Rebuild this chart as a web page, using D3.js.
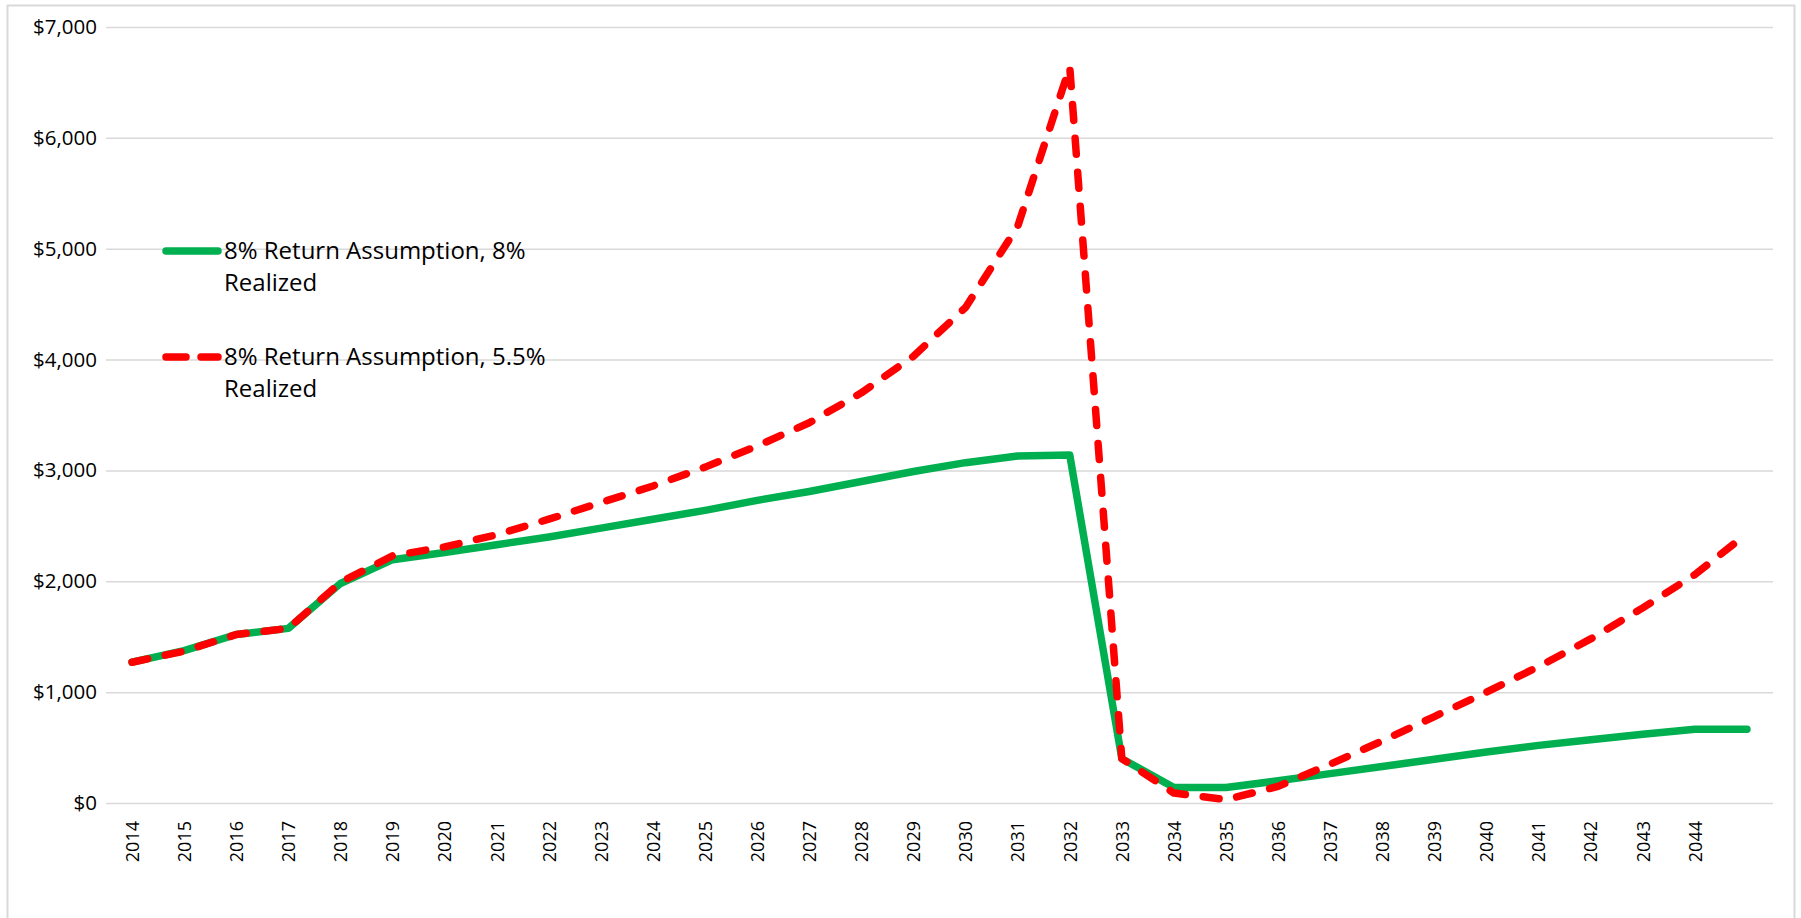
<!DOCTYPE html>
<html>
<head>
<meta charset="utf-8">
<script src="https://cdn.jsdelivr.net/npm/d3@7"></script>
<style>
  body { margin: 0; background: #fff; }
  svg { display: block; font-family: "Open Sans", sans-serif; }
</style>
</head>
<body>
<svg class="container" width="1801" height="918"></svg>
<script>
// DATA
// categories (one point per year, the last year has no label on the axis)
var years = [2014, 2015, 2016, 2017, 2018, 2019, 2020, 2021, 2022, 2023, 2024,
             2025, 2026, 2027, 2028, 2029, 2030, 2031, 2032, 2033, 2034, 2035,
             2036, 2037, 2038, 2039, 2040, 2041, 2042, 2043, 2044, 2045];
var yearLabels = ["2014", "2015", "2016", "2017", "2018", "2019", "2020", "2021",
                  "2022", "2023", "2024", "2025", "2026", "2027", "2028", "2029",
                  "2030", "2031", "2032", "2033", "2034", "2035", "2036", "2037",
                  "2038", "2039", "2040", "2041", "2042", "2043", "2044", ""];
// 8% return assumption, 8% realized
var realized8 = [1270, 1375, 1520, 1575, 1980, 2195, 2260, 2330, 2400, 2480, 2560,
                 2640, 2730, 2810, 2900, 2990, 3070, 3130, 3140, 400, 140, 140,
                 200, 265, 330, 395, 460, 520, 570, 620, 665, 665];
// 8% return assumption, 5.5% realized
var realized55 = [1270, 1370, 1520, 1575, 1990, 2230, 2310, 2420, 2560, 2710, 2860,
                  3030, 3220, 3430, 3700, 4030, 4470, 5200, 6640, 400, 90, 30,
                  150, 350, 560, 780, 1000, 1230, 1480, 1760, 2060, 2430];
var seriesNames = ["8% Return Assumption, 8% Realized", "8% Return Assumption, 5.5% Realized"];
var yTicks = [0, 1000, 2000, 3000, 4000, 5000, 6000, 7000];

// LAYOUT
var plotLeft = 106, plotRight = 1773, plotTop = 27, plotBottom = 803;
var green = "#00b050", red = "#ff0000", grid = "#d9d9d9";

var svg = d3.select(".container");

// chart border
svg.append("rect")
  .attr("x", 7.5).attr("y", 5.5)
  .attr("width", 1787).attr("height", 930)
  .attr("fill", "#fff")
  .attr("stroke", grid)
  .attr("stroke-width", 2);

var x = d3.scalePoint()
  .domain(years)
  .range([plotLeft, plotRight])
  .padding(0.5);

var y = d3.scaleLinear()
  .domain([0, 7000])
  .range([plotBottom, plotTop]);

// y axis + gridlines
var yAxis = svg.append("g")
  .attr("transform", "translate(" + plotLeft + ",0)")
  .call(d3.axisLeft(y)
    .tickValues(yTicks)
    .tickFormat(d3.format("$,"))
    .tickSize(-(plotRight - plotLeft))
    .tickPadding(9));
yAxis.select(".domain").remove();
yAxis.selectAll(".tick line").attr("stroke", grid).attr("stroke-width", 1.5);
yAxis.selectAll(".tick text")
  .attr("fill", "#000")
  .style("font-size", "20.5px")
  .style("font-family", "'Open Sans', sans-serif");

// x axis labels, rotated
var xAxis = svg.append("g")
  .attr("transform", "translate(0," + plotBottom + ")")
  .call(d3.axisBottom(x)
    .tickSize(0)
    .tickFormat(function(d, i) { return yearLabels[i]; }));
xAxis.select(".domain").remove();
xAxis.selectAll(".tick text")
  .attr("fill", "#000")
  .attr("transform", "rotate(-90)")
  .attr("text-anchor", "end")
  .attr("x", -18)
  .attr("y", 0)
  .attr("dy", "0.35em")
  .style("font-size", "18px")
  .style("font-family", "'Open Sans', sans-serif");

var line = d3.line()
  .x(function(d, i) { return x(years[i]); })
  .y(function(d) { return y(d); });

svg.append("path")
  .datum(realized8)
  .attr("d", line)
  .attr("fill", "none")
  .attr("stroke", green)
  .attr("stroke-width", 7.5)
  .attr("stroke-linejoin", "round")
  .attr("stroke-linecap", "round");

svg.append("path")
  .datum(realized55)
  .attr("d", line)
  .attr("fill", "none")
  .attr("stroke", red)
  .attr("stroke-width", 7.5)
  .attr("stroke-linejoin", "round")
  .attr("stroke-linecap", "round")
  .attr("stroke-dasharray", "16,18");

// legend
var legendY = [251, 357];
var legendStyle = [{ color: green, dash: null }, { color: red, dash: "20,15" }];

var legend = svg.selectAll(".legend")
  .data(seriesNames)
  .enter()
  .append("g")
  .attr("class", "legend")
  .attr("transform", function(d, i) { return "translate(0," + legendY[i] + ")"; });

legend.append("line")
  .attr("x1", 166).attr("x2", 218)
  .attr("y1", 0).attr("y2", 0)
  .attr("stroke", function(d, i) { return legendStyle[i].color; })
  .attr("stroke-width", 7.5)
  .attr("stroke-linecap", "round")
  .attr("stroke-dasharray", function(d, i) { return legendStyle[i].dash; });

var legendText = legend.append("text")
  .attr("x", 224)
  .attr("y", 0)
  .attr("fill", "#000")
  .style("font-size", "24px");

legendText.append("tspan")
  .attr("x", 224)
  .attr("dy", "0.35em")
  .text(function(d) { return d.replace(/ Realized$/, ""); });

legendText.append("tspan")
  .attr("x", 224)
  .attr("dy", 32)
  .text("Realized");
</script>
</body>
</html>
